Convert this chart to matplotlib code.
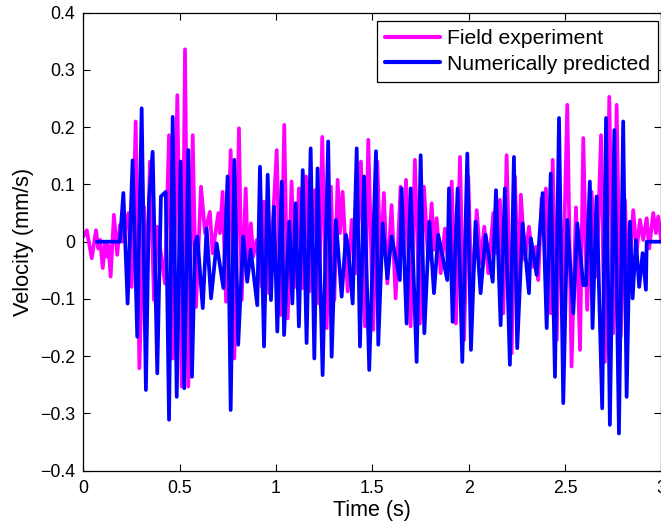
import matplotlib
matplotlib.use("Agg")
import matplotlib.pyplot as plt

# 读图估计的拐点 (时间 s, 速度 mm/s)
field_points = [
    (0.000, 0.009), (0.018, 0.020), (0.044, -0.029), (0.066, 0.020), (0.078, -0.012),
    (0.087, 0.003), (0.101, -0.046), (0.113, -0.003), (0.121, -0.026), (0.130, -0.006),
    (0.142, -0.061), (0.159, 0.047), (0.176, -0.023), (0.190, 0.029), (0.204, 0.000),
    (0.234, 0.050), (0.251, -0.079), (0.272, 0.210), (0.291, -0.221), (0.315, 0.061),
    (0.329, -0.084), (0.346, 0.140), (0.367, -0.102), (0.384, 0.026), (0.424, -0.073),
    (0.445, 0.186), (0.464, -0.204), (0.488, 0.256), (0.511, -0.253), (0.528, 0.336),
    (0.545, -0.253), (0.568, 0.186), (0.585, -0.114),
    (0.611, 0.096), (0.632, 0.015), (0.657, 0.052), (0.671, -0.020), (0.701, 0.050),
    (0.709, 0.015), (0.723, 0.087), (0.741, -0.105), (0.765, 0.160), (0.784, -0.204),
    (0.808, 0.198), (0.822, -0.102), (0.843, 0.093), (0.856, -0.055), (0.870, 0.032),
    (0.882, -0.026), (0.900, 0.003), (0.926, -0.079), (0.938, 0.070), (0.964, -0.090),
    (1.004, 0.160), (1.024, -0.128), (1.043, 0.204), (1.061, -0.134),
    (1.081, 0.105), (1.099, -0.079), (1.119, 0.093), (1.139, -0.081), (1.156, 0.114),
    (1.173, -0.087), (1.202, 0.090), (1.223, -0.108), (1.240, 0.183), (1.263, -0.151),
    (1.285, 0.096), (1.303, -0.102), (1.320, 0.108), (1.332, 0.015), (1.346, 0.087),
    (1.372, -0.087), (1.393, 0.038), (1.415, -0.055), (1.441, 0.140), (1.462, -0.148),
    (1.479, 0.178),
    (1.505, -0.154), (1.526, 0.140), (1.543, -0.044), (1.560, 0.085), (1.578, -0.073),
    (1.600, 0.064), (1.621, -0.099), (1.647, 0.096), (1.661, -0.020), (1.675, 0.108),
    (1.699, -0.148), (1.721, 0.143), (1.747, -0.143), (1.768, 0.096), (1.790, -0.032),
    (1.808, 0.067), (1.820, -0.014), (1.834, 0.041), (1.855, -0.055), (1.877, 0.023),
    (1.894, -0.044), (1.912, 0.105), (1.934, -0.143), (1.955, 0.148), (1.976, -0.172),
    (1.998, 0.114), (2.016, -0.102), (2.042, 0.055), (2.062, -0.038), (2.081, 0.026),
    (2.102, -0.055), (2.128, 0.050), (2.145, -0.020), (2.162, 0.073), (2.180, -0.125),
    (2.197, 0.151), (2.223, -0.195), (2.240, 0.114), (2.257, -0.073), (2.271, 0.082),
    (2.292, -0.032), (2.313, 0.026), (2.335, -0.044), (2.349, -0.009), (2.361, -0.067),
    (2.379, 0.076), (2.387, 0.015), (2.401, 0.093), (2.426, -0.125), (2.436, 0.143),
    (2.457, -0.172), (2.472, 0.070), (2.488, -0.100), (2.512, 0.239), (2.534, -0.218),
    (2.557, 0.060), (2.578, -0.189), (2.595, 0.181), (2.615, -0.119), (2.638, 0.087),
    (2.664, -0.061), (2.687, 0.186), (2.707, -0.210), (2.730, 0.253), (2.750, -0.160),
    (2.768, 0.239), (2.789, -0.166), (2.811, 0.073), (2.828, -0.090), (2.854, 0.055),
    (2.872, -0.017), (2.889, 0.038), (2.906, 0.003), (2.924, 0.041), (2.937, -0.012),
    (2.958, 0.050), (2.972, 0.015), (2.984, 0.044), (3.000, 0.000),
]

predicted_points = [
    (0.070, 0.000), (0.190, 0.000), (0.208, 0.085), (0.230, -0.108), (0.256, 0.142),
    (0.280, -0.166), (0.303, 0.233), (0.325, -0.259), (0.341, 0.073), (0.360, 0.157),
    (0.384, -0.230), (0.403, 0.079), (0.428, 0.087), (0.445, -0.311), (0.464, 0.218),
    (0.485, -0.271), (0.505, 0.140), (0.524, -0.256), (0.545, 0.160), (0.564, -0.236),
    (0.580, -0.003), (0.592, 0.009), (0.620, -0.116), (0.640, 0.023), (0.663, -0.099),
    (0.692, -0.003), (0.727, -0.081), (0.749, 0.114), (0.765, -0.294), (0.784, 0.143),
    (0.804, -0.180), (0.830, 0.009), (0.851, -0.070), (0.869, -0.014), (0.903, -0.111),
    (0.917, 0.131), (0.938, -0.183), (0.957, 0.117), (0.974, -0.102), (0.990, 0.061),
    (1.007, -0.157), (1.030, 0.105), (1.042, -0.163),
    (1.069, 0.035), (1.085, -0.108), (1.102, 0.067), (1.119, -0.148), (1.139, 0.125),
    (1.159, -0.177), (1.180, 0.163), (1.199, -0.204), (1.216, 0.128), (1.242, -0.233),
    (1.271, 0.175), (1.289, -0.201), (1.311, 0.038), (1.341, -0.096), (1.363, 0.012),
    (1.375, -0.012), (1.398, -0.108), (1.419, 0.163), (1.436, -0.183), (1.457, 0.114),
    (1.484, -0.224),
    (1.519, 0.158), (1.531, -0.180), (1.554, 0.032), (1.578, -0.064), (1.600, 0.009),
    (1.643, -0.067), (1.652, 0.093), (1.678, -0.143), (1.699, 0.093), (1.730, -0.210),
    (1.751, 0.151), (1.770, -0.160), (1.796, 0.035), (1.820, -0.090), (1.842, 0.012),
    (1.889, -0.067), (1.898, 0.093), (1.917, -0.140), (1.943, 0.093), (1.967, -0.210),
    (1.993, 0.154),
    (2.012, -0.189), (2.036, 0.035), (2.062, -0.090), (2.088, 0.012), (2.125, -0.070),
    (2.142, 0.090), (2.166, -0.146), (2.188, 0.093), (2.214, -0.215), (2.235, 0.148),
    (2.252, -0.186), (2.280, 0.032), (2.313, -0.090), (2.323, 0.006), (2.353, -0.058),
    (2.384, 0.085), (2.405, -0.151), (2.426, 0.119), (2.448, -0.236), (2.469, 0.216),
    (2.491, -0.282), (2.512, 0.038), (2.543, -0.125), (2.564, 0.032), (2.595, -0.076),
    (2.609, -0.076), (2.629, 0.105), (2.643, -0.151), (2.664, 0.079), (2.693, -0.291),
    (2.713, 0.216), (2.733, -0.320), (2.756, 0.195), (2.780, -0.335), (2.802, 0.210),
    (2.820, -0.271), (2.837, 0.035), (2.851, -0.099), (2.868, 0.003), (2.885, -0.079),
    (2.903, -0.020), (2.920, -0.084), (2.924, 0.000), (3.000, 0.000),
]

series_labels = ["Field experiment", "Numerically predicted"]
x_ticks = [0, 0.5, 1, 1.5, 2, 2.5, 3]
x_ticklabels = ["0", "0.5", "1", "1.5", "2", "2.5", "3"]
y_ticks = [-0.4, -0.3, -0.2, -0.1, 0, 0.1, 0.2, 0.3, 0.4]
y_ticklabels = ["\u22120.4", "\u22120.3", "\u22120.2", "\u22120.1", "0",
                "0.1", "0.2", "0.3", "0.4"]

plt.rcParams["font.family"] = ["Liberation Sans", "DejaVu Sans"]

field_t, field_v = zip(*field_points)
pred_t, pred_v = zip(*predicted_points)

fig = plt.figure(figsize=(6.61, 5.22), dpi=100)
ax = fig.add_axes([0.126, 0.0983, 0.8745, 0.8774])

ax.plot(field_t, field_v, color="#ff00ff", lw=2.7, label=series_labels[0],
        solid_joinstyle="round", solid_capstyle="round")
ax.plot(pred_t, pred_v, color="#0000ff", lw=2.7, label=series_labels[1],
        solid_joinstyle="round", solid_capstyle="round")

ax.set_xlim(0, 3)
ax.set_ylim(-0.4, 0.4)
ax.set_xticks(x_ticks)
ax.set_xticklabels(x_ticklabels)
ax.set_yticks(y_ticks)
ax.set_yticklabels(y_ticklabels)
ax.tick_params(direction="in", top=True, right=True, length=5, width=0.8,
               labelsize=12.8, pad=6)
ax.tick_params(axis="x", pad=7)
for sp in ax.spines.values():
    sp.set_linewidth(0.9)

ax.set_xlabel("Time (s)", fontsize=15.5, labelpad=2)
ax.set_ylabel("Velocity (mm/s)", fontsize=15.7, labelpad=4)

leg = ax.legend(loc="upper right", bbox_to_anchor=(0.9943, 0.982), borderaxespad=0,
                fontsize=15.2, frameon=True, fancybox=False, framealpha=1,
                handlelength=2.6, handletextpad=0.3, labelspacing=0.3,
                borderpad=0.4)
leg.get_frame().set_edgecolor("black")
leg.get_frame().set_linewidth(0.9)
for line in leg.get_lines():
    line.set_linewidth(3.0)

fig.savefig("out.png", dpi=100)
